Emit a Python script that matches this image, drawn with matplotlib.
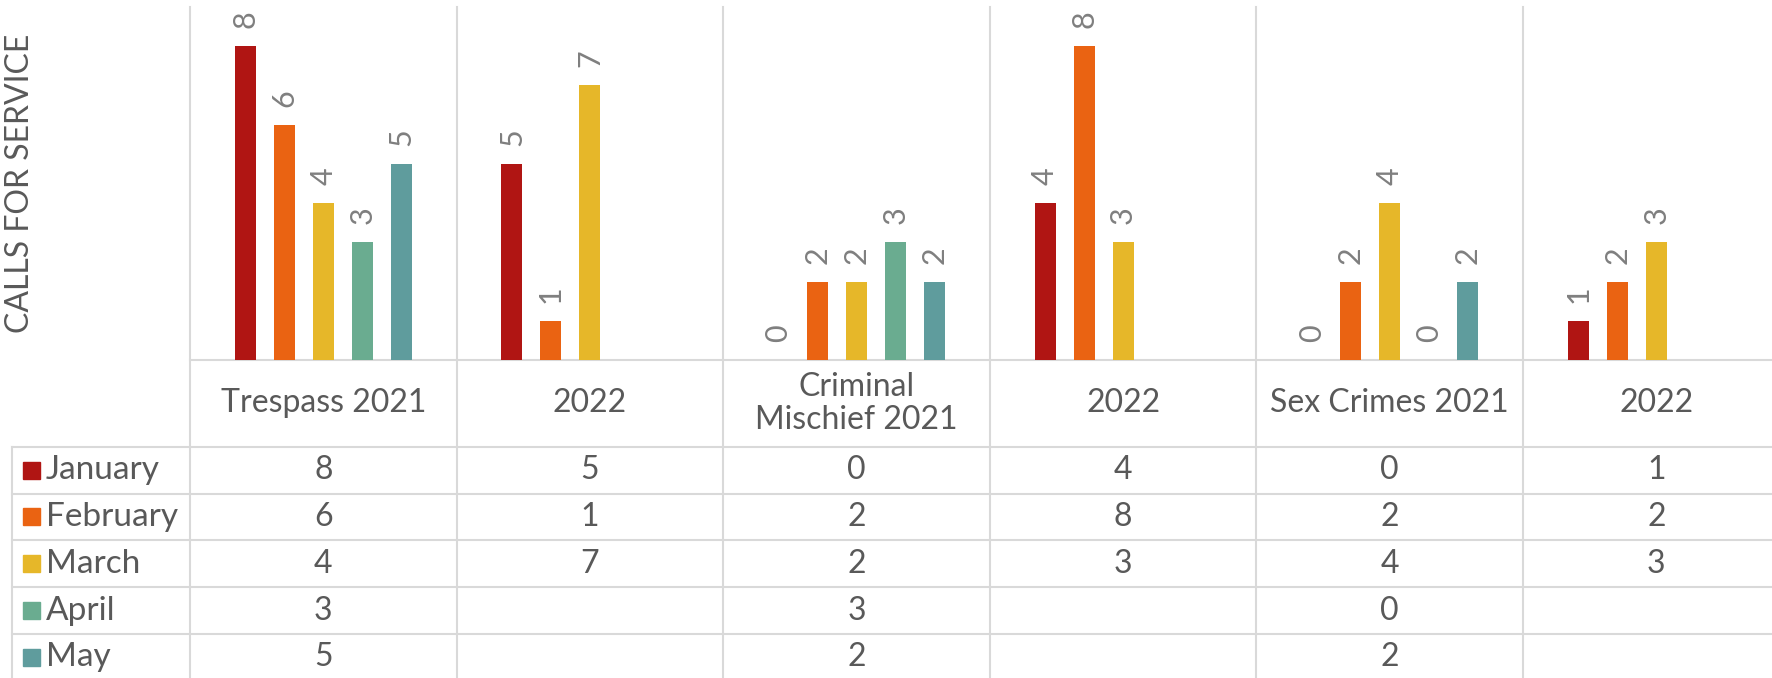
import matplotlib.pyplot as plt
import matplotlib.transforms as mtransforms
from matplotlib.patches import Rectangle
import numpy as np

plt.rcParams['font.family'] = ['Lato', 'DejaVu Sans']

categories = ["Trespass 2021", "2022", "Criminal\nMischief 2021", "2022", "Sex Crimes 2021", "2022"]
months = ["January", "February", "March", "April", "May"]
january = [8, 5, 0, 4, 0, 1]
february = [6, 1, 2, 8, 2, 2]
march = [4, 7, 2, 3, 4, 3]
april = [3, np.nan, 3, np.nan, 0, np.nan]
may = [5, np.nan, 2, np.nan, 2, np.nan]
series = [january, february, march, april, may]
colors = ["#B01513", "#EA6312", "#E6B729", "#6AAC90", "#5F9C9D"]

W, H = 1772, 678
grid_c = "#D9D9D9"
text_c = "#595959"
label_c = "#7F7F7F"

fig = plt.figure(figsize=(W / 100, H / 100), dpi=100)
col_px = 266.6
ax_left, ax_top, ax_base = 190, 7, 360
ax = fig.add_axes([ax_left / W, 1 - ax_base / H, (W - ax_left) / W, (ax_base - ax_top) / H])
ax.set_xlim(0, (W - ax_left) / col_px)
ax.set_ylim(0, 9)
for s in ['top', 'right', 'left']:
    ax.spines[s].set_visible(False)
ax.spines['bottom'].set_color(grid_c)
ax.spines['bottom'].set_linewidth(1.5)
ax.set_xticks([])
ax.set_yticks([])

slot = 0.1463
bw = 0.0788
x = np.arange(len(categories)) + 0.5
for k, (vals, c) in enumerate(zip(series, colors)):
    vals = np.array(vals, dtype=float)
    xs = x + (k - 2) * slot
    ax.bar(xs, vals, width=bw, color=c, zorder=3)
    for xi, v in zip(xs, vals):
        if np.isnan(v):
            continue
        ax.annotate(str(int(v)), (xi, v), xytext=(0, 13), textcoords='offset points',
                    rotation=90, ha='center', va='bottom', fontsize=22, color=label_c)

# y label
fig.text(20 / W, 1 - 183 / H, "CALLS FOR SERVICE", rotation=90, ha='center', va='center',
         fontsize=23, color=text_c)

# table grid
bx = mtransforms.blended_transform_factory(ax.transData, fig.transFigure)
for i in range(len(categories) + 1):
    ax.plot([i, i], [0, 1 - ax_top / H], transform=bx,
            color=grid_c, lw=1.5, clip_on=False, zorder=1)

row_top = 446.7
row_h = 46.8
for r in range(len(months) + 1):
    yf = 1 - (row_top + r * row_h) / H
    fig.add_artist(plt.Line2D([12 / W, 1], [yf, yf], color=grid_c, lw=1.5, transform=fig.transFigure))
fig.add_artist(plt.Line2D([12 / W, 12 / W], [0, 1 - row_top / H], color=grid_c, lw=1.5,
                          transform=fig.transFigure))

# header labels
for xi, cat in zip(x, categories):
    ax.text(xi, 1 - 403.5 / H, cat, transform=bx, ha='center', va='center',
            fontsize=23, color=text_c, linespacing=1.15)

# row labels + values
for r, (m, vals, c) in enumerate(zip(months, series, colors)):
    yc = row_top + row_h * (r + 0.5)
    fig.add_artist(Rectangle((23 / W, 1 - (yc + 8.5) / H), 17 / W, 17 / H,
                             color=c, transform=fig.transFigure))
    fig.text(46 / W, 1 - yc / H, m, ha='left', va='center', fontsize=24, color=text_c)
    for xi, v in zip(x, vals):
        if np.isnan(v):
            continue
        ax.text(xi, 1 - yc / H, str(int(v)), transform=bx, ha='center', va='center',
                fontsize=23, color=text_c)

fig.savefig("out.png", dpi=100)
